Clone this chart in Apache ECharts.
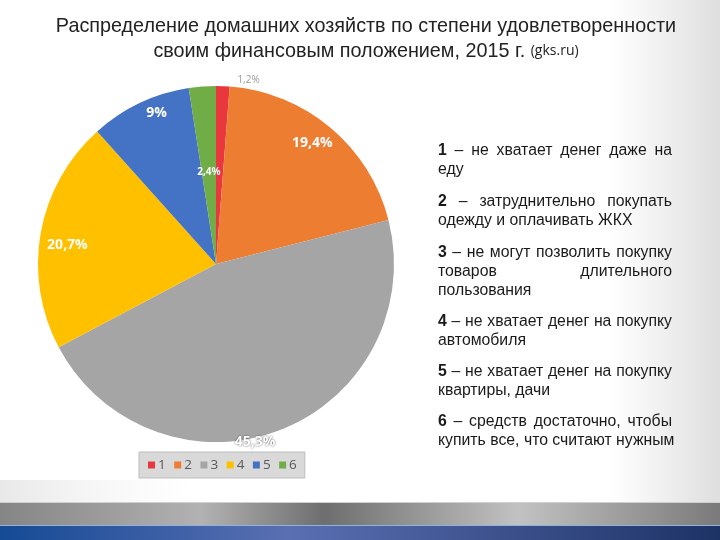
<!DOCTYPE html>
<html><head><meta charset="utf-8">
<script src="https://cdn.jsdelivr.net/npm/echarts@6/dist/echarts.min.js"></script>
<style>html,body{margin:0;padding:0;background:#fff}#c{width:720px;height:540px}</style>
</head><body><div id="c"></div>
<script>
// ---- data ----
const categories = ['1', '2', '3', '4', '5', '6'];
const shares = [1.2, 19.4, 45.3, 20.7, 9, 2.4];
const shareLabels = ['1,2%', '19,4%', '45,3%', '20,7%', '9%', '2,4%'];
const colors = ['#E8383D', '#ED7D31', '#A5A5A5', '#FFC000', '#4472C4', '#70AD47'];
const descNums = ['1', '2', '3', '4', '5', '6'];
const descLines = [
  ['– не хватает денег даже на', 'еду'],
  ['– затруднительно покупать', 'одежду и оплачивать ЖКХ'],
  ['– не могут позволить покупку', 'товаров длительного', 'пользования'],
  ['– не хватает денег на покупку', 'автомобиля'],
  ['– не хватает денег на покупку', 'квартиры, дачи'],
  ['– средств достаточно, чтобы', 'купить все, что считают нужным']
];
const titleLine1 = 'Распределение домашних хозяйств по степени удовлетворенности';
const titleLine2 = 'своим финансовым положением, 2015 г.';
const titleSource = '(gks.ru)';

// ---- layout ----
const labelStyles = [
  {offset: [29, -92], color: '#9a9a9a', fontSize: 10, fontWeight: 'normal'},
  {offset: [37, -51], color: '#fff', fontSize: 14, fontWeight: 'bold'},
  {offset: [6, 92], color: '#fff', fontSize: 14, fontWeight: 'bold', textShadowColor: 'rgba(60,60,60,0.9)', textShadowBlur: 2},
  {offset: [-58, -3], color: '#fff', fontSize: 14, fontWeight: 'bold'},
  {offset: [-20, -68], color: '#fff', fontSize: 14, fontWeight: 'bold'},
  {offset: [0, 0], color: '#fff', fontSize: 10, fontWeight: 'bold'}
];

const pieData = categories.map((c, i) => ({
  name: c, value: shares[i],
  itemStyle: {color: colors[i]},
  label: Object.assign({formatter: shareLabels[i], fontFamily: '"Open Sans", sans-serif'}, labelStyles[i])
}));

// justified text on the right
const ctx = document.createElement('canvas').getContext('2d');
const FS = 15.8, FF = '"Liberation Sans", Arial, sans-serif';
function w(t, bold) { ctx.font = (bold ? 'bold ' : '') + FS + 'px ' + FF; return ctx.measureText(t).width; }
const X0 = 438, X1 = 672, blockY = [151, 202, 253, 322, 372, 422], LH = 19;
const graphics = [];
// background decorations
graphics.push({type: 'rect', shape: {x: 610, y: 0, width: 110, height: 503}, silent: true, z: -10,
  style: {fill: new echarts.graphic.LinearGradient(0, 0, 1, 0, [{offset: 0, color: 'rgba(225,225,225,0)'}, {offset: 1, color: 'rgba(222,222,222,1)'}])}});
graphics.push({type: 'rect', shape: {x: 0, y: 480, width: 200, height: 23}, silent: true, z: -10,
  style: {fill: new echarts.graphic.LinearGradient(0, 1, 1, 0, [{offset: 0, color: 'rgba(232,232,232,1)'}, {offset: 1, color: 'rgba(245,245,245,0)'}])}});
graphics.push({type: 'rect', shape: {x: 0, y: 502, width: 720, height: 24}, silent: true, z: -5,
  style: {fill: new echarts.graphic.LinearGradient(0, 0, 1, 0, [
    {offset: 0, color: '#858585'}, {offset: 0.28, color: '#b2b2b2'}, {offset: 0.45, color: '#6e6e6e'},
    {offset: 0.72, color: '#c2c2c2'}, {offset: 1, color: '#7a7a7a'}])}});
graphics.push({type: 'rect', shape: {x: 0, y: 502, width: 720, height: 1}, silent: true, z: -4, style: {fill: '#d0d0d0'}});
graphics.push({type: 'rect', shape: {x: 0, y: 526, width: 720, height: 14}, silent: true, z: -5,
  style: {fill: new echarts.graphic.LinearGradient(0, 0, 1, 0, [
    {offset: 0, color: '#154a95'}, {offset: 0.4, color: '#5a6fb2'}, {offset: 1, color: '#1d3366'}])}});
graphics.push({type: 'rect', shape: {x: 0, y: 525, width: 720, height: 1}, silent: true, z: -4, style: {fill: '#8fb3dd'}});

descLines.forEach((lines, b) => {
  lines.forEach((line, li) => {
    const y = blockY[b] + li * LH;
    const words = line.split(' ').map(t => ({t, bold: false}));
    if (li === 0) words.unshift({t: descNums[b], bold: true});
    const last = li === lines.length - 1;
    let gap;
    const total = words.reduce((s, o) => s + w(o.t, o.bold), 0);
    if (last || words.length < 2) gap = w(' ', false);
    else gap = (X1 - X0 - total) / (words.length - 1);
    let x = X0;
    words.forEach(o => {
      graphics.push({type: 'text', x: x, y: y, silent: true,
        style: {text: o.t, fill: '#1a1a1a', font: (o.bold ? 'bold ' : '') + FS + 'px ' + FF, textVerticalAlign: 'middle', verticalAlign: 'middle'}});
      x += w(o.t, o.bold) + gap;
    });
  });
});

const chart = echarts.init(document.getElementById('c'));
chart.setOption({
  animation: false,
  backgroundColor: '#fff',
  title: {
    text: titleLine1 + '\n' + titleLine2 + ' {s|' + titleSource + '}',
    left: 361, top: 9, textAlign: 'center',
    textStyle: {fontFamily: FF, fontSize: 19.8, fontWeight: 'normal', color: '#222', lineHeight: 25,
      rich: {s: {fontFamily: '"Open Sans", sans-serif', fontSize: 14, color: '#222', lineHeight: 25}}}
  },
  legend: {
    data: categories, left: 139, top: 452,
    backgroundColor: '#d9d9d9', borderColor: '#bdbdbd', borderWidth: 1, padding: [5, 8, 5, 9],
    itemWidth: 7, itemHeight: 7, itemGap: 8.5, icon: 'rect',
    textStyle: {fontSize: 13.5, color: '#595959', fontFamily: '"Open Sans", sans-serif', padding: [0, 0, 0, -2], lineHeight: 16}
  },
  series: [{
    type: 'pie', radius: 178, center: [216, 264], startAngle: 90, clockwise: true,
    avoidLabelOverlap: false, labelLine: {show: false},
    label: {show: true, position: 'inside'},
    emphasis: {disabled: true},
    itemStyle: {borderWidth: 0},
    data: pieData
  }],
  graphic: graphics
});
</script></body></html>
